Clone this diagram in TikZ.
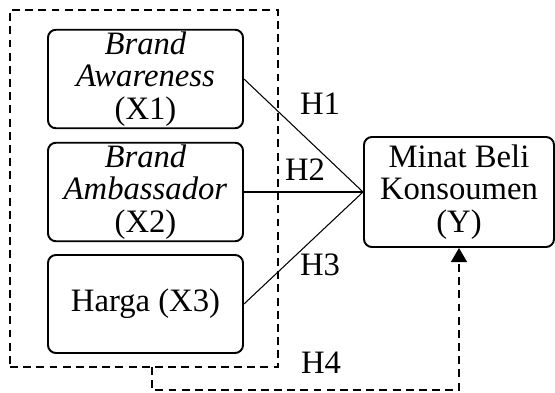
\documentclass[tikz,border=0pt]{standalone}
\usepackage{fontspec}
\setmainfont{Liberation Serif}[
  ItalicFont={Liberation Serif Italic}]
\usetikzlibrary{arrows.meta, positioning}

\begin{document}
\begin{tikzpicture}[
    varbox/.style={draw,rounded corners=4.5pt,line width=1.1pt,minimum width=3.9cm,
                   minimum height=1.96cm,align=center,inner sep=1pt,
                   font=\fontsize{18.6}{18.6}\selectfont},
    frame/.style={draw,line width=0.8pt,dash pattern=on 4.5pt off 3pt,
                  minimum width=5.36cm,minimum height=7.14cm},
    lbl/.style={font=\fontsize{18.6}{18.6}\selectfont,inner sep=0pt},
    link/.style={line width=0.6pt},
    dasharr/.style={-{Triangle[length=8pt,width=9pt]},line width=1.1pt,
                    dash pattern=on 4.5pt off 3pt}
]
  \useasboundingbox (0,0) rectangle (11.1,7.84);

  % Grouping frame
  \node[frame] (grp) at (2.88,4.07) {};

  % Independent variables
  \node[varbox] (x1) at (2.91,6.26) {\textit{Brand}\\\textit{Awareness}\\(X1)};
  \node[varbox] (x2) at (2.91,4.0) {\textit{Brand}\\\textit{Ambassador}\\(X2)};
  \node[varbox] (x3) at (2.91,1.76) {Harga (X3)};

  % Dependent variable
  \node[varbox,minimum width=3.8cm,minimum height=2.2cm] (y) at (9.18,4.0) {Minat Beli\\Konsoumen\\(Y)};

  % Hypotheses
  \draw[link] (x1.east) -- (y.west);
  \draw[link] (x2.east) -- (y.west);
  \draw[link] (x3.east) -- (y.west);

  \node[lbl] (h1) at (6.4,5.76) {H1};
  \node[lbl] (h2) at (6.1,4.44) {H2};
  \node[lbl] (h3) at (6.4,2.54) {H3};
  \node[lbl] (h4) at (6.42,0.58) {H4};

  % Simultaneous path
  \coordinate (h4top) at (3.04,0.5);
  \coordinate (h4low) at (3.04,0.04);
  \draw[dasharr] (h4top) -- (h4low) -| (y.south);

\end{tikzpicture}
\end{document}
